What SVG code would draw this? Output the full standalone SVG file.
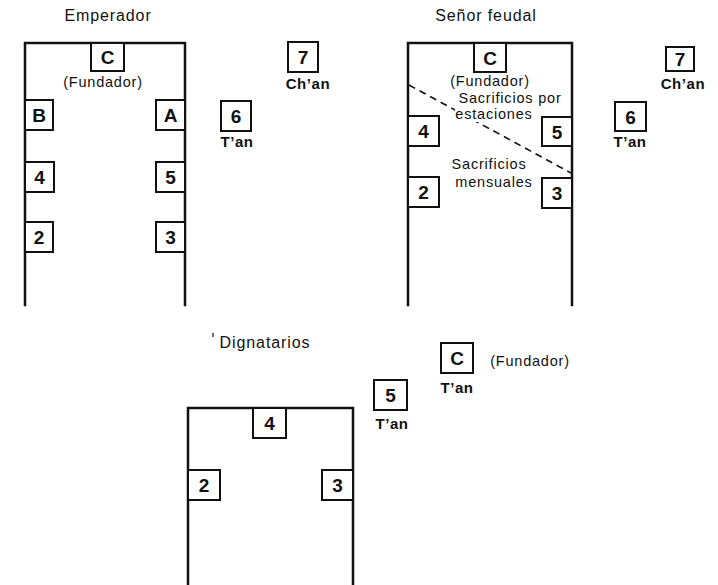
<svg xmlns="http://www.w3.org/2000/svg" width="718" height="585" viewBox="0 0 718 585">
<style>
.wall{fill:none;stroke:#111;stroke-width:2.5;stroke-linecap:square}
.box{fill:#fff;stroke:#111;stroke-width:2}
.num{font-family:"Liberation Sans",Arial,sans-serif;font-weight:bold;font-size:19px;fill:#111;text-anchor:middle}
.lbl{font-family:"Liberation Sans",Arial,sans-serif;font-size:14.5px;letter-spacing:0.8px;fill:#111;text-anchor:middle}
.bl{font-family:"Liberation Sans",Arial,sans-serif;font-weight:bold;font-size:15px;letter-spacing:0.6px;fill:#111;text-anchor:middle}
.title{font-family:"Liberation Sans",Arial,sans-serif;font-size:16px;letter-spacing:0.9px;fill:#111;text-anchor:middle}
.dash{fill:none;stroke:#111;stroke-width:1.6;stroke-dasharray:7,5}
</style>
<rect width="718" height="585" fill="#fff"/>

<!-- Emperador -->
<g id="emperador">
  <text class="title" x="108" y="21">Emperador</text>
  <path class="wall" d="M25,305 V43 H185 V305"/>
</g>
<g id="emp-C"><rect class="box" x="91" y="43" width="33" height="28"/><text class="num" x="107.5" y="64">C</text><text class="lbl" x="103" y="87">(Fundador)</text></g>
<g id="emp-B"><rect class="box" x="25" y="100" width="28" height="30"/><text class="num" x="39" y="122">B</text></g>
<g id="emp-A"><rect class="box" x="156" y="100" width="29" height="30"/><text class="num" x="170.5" y="122">A</text></g>
<g id="emp-4"><rect class="box" x="25" y="162" width="29" height="30"/><text class="num" x="39.5" y="184">4</text></g>
<g id="emp-5"><rect class="box" x="156" y="162" width="29" height="30"/><text class="num" x="170.5" y="184">5</text></g>
<g id="emp-2"><rect class="box" x="25" y="222" width="28" height="30"/><text class="num" x="39" y="244">2</text></g>
<g id="emp-3"><rect class="box" x="156" y="222" width="29" height="30"/><text class="num" x="170.5" y="244">3</text></g>
<g id="emp-6"><rect class="box" x="221" y="101" width="30" height="30"/><text class="num" x="236" y="123">6</text><text class="bl" x="237" y="147">T’an</text></g>
<g id="emp-7"><rect class="box" x="288" y="42" width="30" height="30"/><text class="num" x="303" y="64">7</text><text class="bl" x="308" y="89">Ch’an</text></g>

<!-- Señor feudal -->
<g id="senor">
  <text class="title" x="486" y="21">Señor feudal</text>
  <path class="wall" d="M408,305 V43 H572 V305"/>
</g>
<g id="connectors">
  <path class="dash" d="M409,85 L571,173"/>
</g>
<g id="sen-C"><rect class="box" x="474" y="43" width="32" height="29"/><text class="num" x="490" y="65">C</text><text class="lbl" x="490" y="86">(Fundador)</text></g>
<g id="sen-label1"><rect x="452" y="90" width="118" height="16" fill="#fff"/><rect x="455" y="107" width="80" height="15" fill="#fff"/><text class="lbl" x="510" y="103">Sacrificios por</text><text class="lbl" x="494" y="119">estaciones</text></g>
<g id="sen-4"><rect class="box" x="408" y="116" width="31" height="30"/><text class="num" x="423.5" y="138">4</text></g>
<g id="sen-5"><rect class="box" x="542" y="117" width="30" height="29"/><text class="num" x="557" y="139">5</text></g>
<g id="sen-label2"><text class="lbl" x="489" y="169">Sacrificios</text><text class="lbl" x="494" y="187">mensuales</text></g>
<g id="sen-2"><rect class="box" x="408" y="177" width="31" height="30"/><text class="num" x="423.5" y="199">2</text></g>
<g id="sen-3"><rect class="box" x="542" y="178" width="30" height="30"/><text class="num" x="557" y="200">3</text></g>
<g id="sen-6"><rect class="box" x="615" y="102" width="31" height="29"/><text class="num" x="630.5" y="124">6</text><text class="bl" x="630" y="147">T’an</text></g>
<g id="sen-7"><rect class="box" x="666" y="47" width="28" height="24"/><text class="num" x="680" y="66">7</text><text class="bl" x="683" y="89">Ch’an</text></g>

<!-- Dignatarios -->
<g id="dignatarios">
  <line x1="213" y1="333" x2="213" y2="337" stroke="#111" stroke-width="1.2"/>
  <text class="title" x="265" y="348">Dignatarios</text>
  <path class="wall" d="M188,590 V408 H353 V590"/>
</g>
<g id="dig-4"><rect class="box" x="253" y="408" width="33" height="30"/><text class="num" x="269.5" y="430">4</text></g>
<g id="dig-2"><rect class="box" x="188" y="470" width="32" height="30"/><text class="num" x="204" y="492">2</text></g>
<g id="dig-3"><rect class="box" x="322" y="470" width="31" height="30"/><text class="num" x="337.5" y="492">3</text></g>
<g id="dig-5"><rect class="box" x="374" y="380" width="33" height="30"/><text class="num" x="390.5" y="402">5</text><text class="bl" x="392" y="429">T’an</text></g>
<g id="dig-C"><rect class="box" x="441" y="343" width="32" height="30"/><text class="num" x="457" y="365">C</text><text class="bl" x="457" y="393">T’an</text><text class="lbl" x="530" y="366">(Fundador)</text></g>
</svg>
